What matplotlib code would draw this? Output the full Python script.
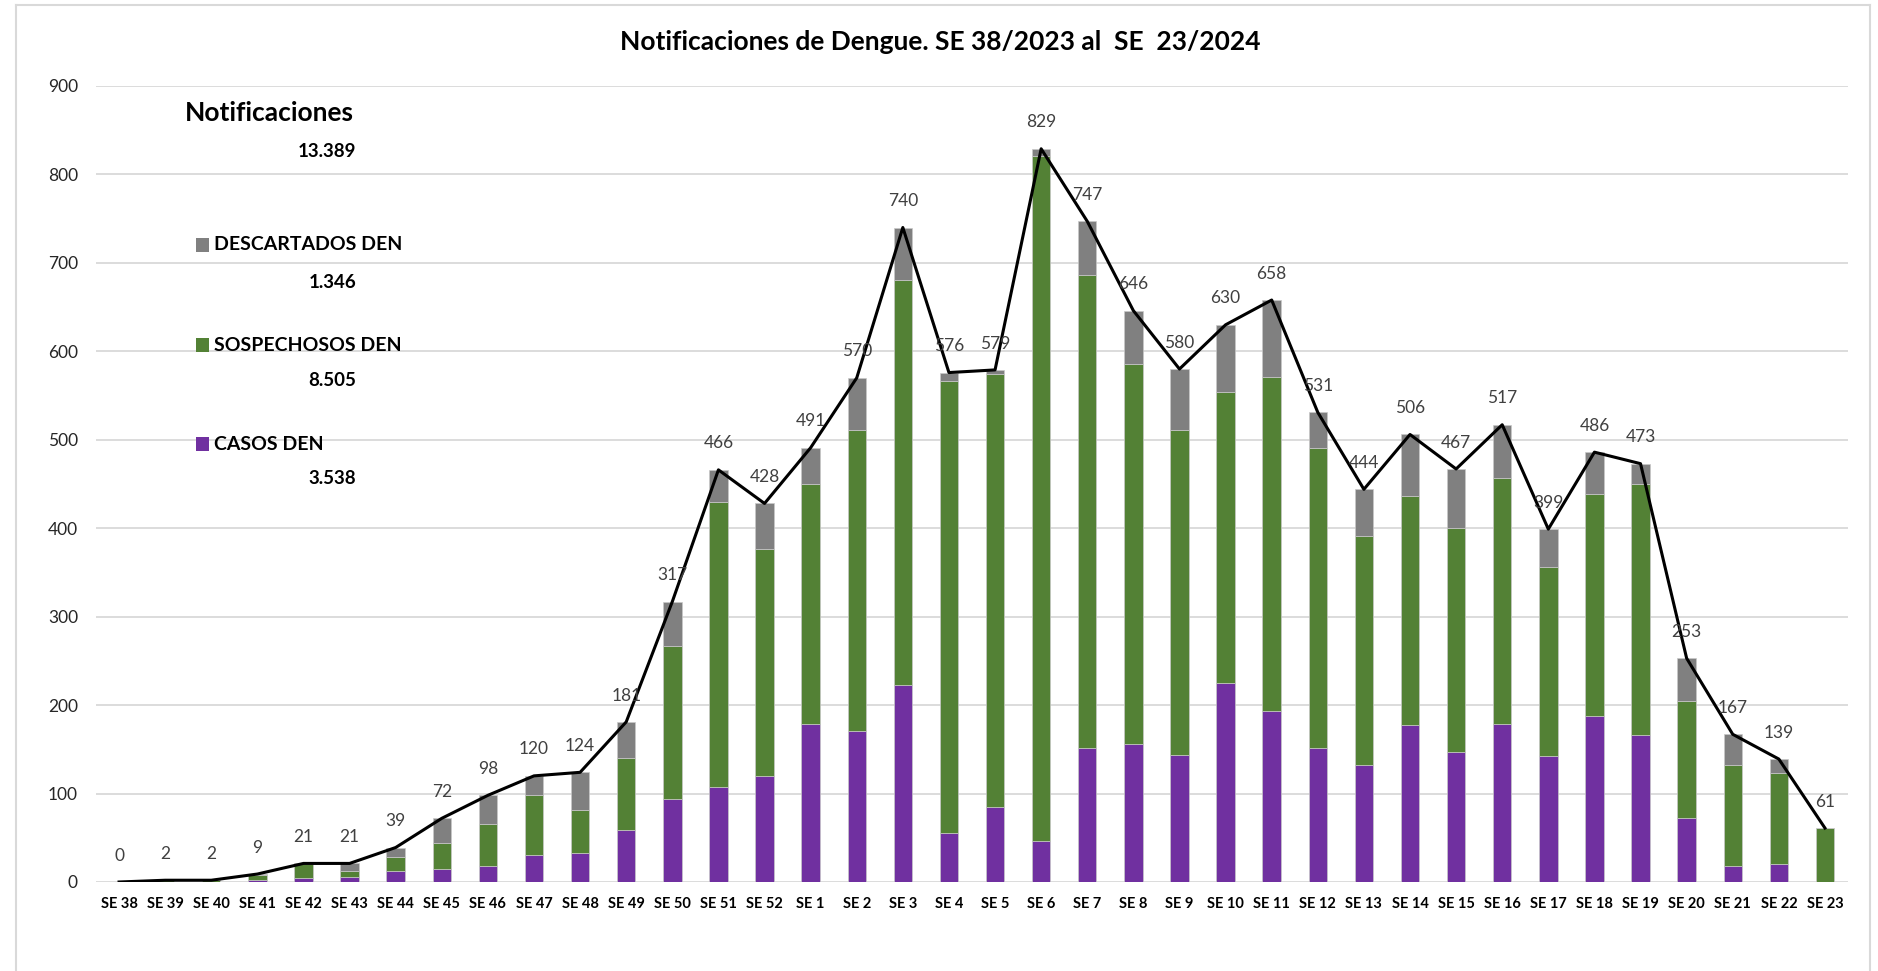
import matplotlib
matplotlib.use("Agg")
import matplotlib.pyplot as plt
from matplotlib.patches import Rectangle
from matplotlib.lines import Line2D

plt.rcParams['font.family'] = ['Lato', 'DejaVu Sans']

# --- Data ---
semanas = ["SE 38", "SE 39", "SE 40", "SE 41", "SE 42", "SE 43", "SE 44", "SE 45",
           "SE 46", "SE 47", "SE 48", "SE 49", "SE 50", "SE 51", "SE 52", "SE 1",
           "SE 2", "SE 3", "SE 4", "SE 5", "SE 6", "SE 7", "SE 8", "SE 9", "SE 10",
           "SE 11", "SE 12", "SE 13", "SE 14", "SE 15", "SE 16", "SE 17", "SE 18",
           "SE 19", "SE 20", "SE 21", "SE 22", "SE 23"]
casos = [0, 0, 0, 2, 4, 6, 12, 15, 18, 30, 33, 59, 94, 107, 120, 179, 171, 223, 55,
         85, 46, 151, 156, 144, 225, 193, 151, 132, 177, 147, 179, 142, 188, 166,
         72, 18, 20, 0]
sospechosos = [0, 2, 2, 6, 16, 7, 16, 29, 48, 68, 48, 81, 173, 323, 256, 271, 340,
               458, 511, 489, 775, 535, 430, 367, 329, 378, 340, 259, 259, 253, 278,
               214, 251, 284, 133, 114, 103, 61]
descartados = [0, 0, 0, 1, 1, 8, 11, 28, 32, 22, 43, 41, 50, 36, 52, 41, 59, 59, 10,
               5, 8, 61, 60, 69, 76, 87, 40, 53, 70, 67, 60, 43, 47, 23, 48, 35, 16, 0]
notificaciones = [0, 2, 2, 9, 21, 21, 39, 72, 98, 120, 124, 181, 317, 466, 428, 491,
                  570, 740, 576, 579, 829, 747, 646, 580, 630, 658, 531, 444, 506, 467,
                  517, 399, 486, 473, 253, 167, 139, 61]

total_label = "13.389"
series_labels = ["DESCARTADOS DEN", "SOSPECHOSOS DEN", "CASOS DEN"]
series_totals = ["1.346", "8.505", "3.538"]

C_CASOS = "#7030A0"
C_SOSP = "#538135"
C_DESC = "#808080"

W, H = 1878, 971
fig = plt.figure(figsize=(W / 100, H / 100), dpi=100)

# axes placed in pixel terms
left, right, top, bottom = 96, 1848, 86, 882
ax = fig.add_axes([left / W, 1 - bottom / H, (right - left) / W, (bottom - top) / H])

x = list(range(len(semanas)))
base2 = [c + s for c, s in zip(casos, sospechosos)]
bw = 0.4
ec = "#c8c8c8"
ax.bar(x, casos, width=bw, color=C_CASOS, edgecolor=ec, linewidth=0.5, zorder=2)
ax.bar(x, sospechosos, bottom=casos, width=bw, color=C_SOSP, edgecolor=ec, linewidth=0.5, zorder=2)
ax.bar(x, descartados, bottom=base2, width=bw, color=C_DESC, edgecolor=ec, linewidth=0.5, zorder=2)

ax.plot(x, notificaciones, color="black", linewidth=2.2, zorder=3)
for xi, v in zip(x, notificaciones):
    ax.annotate(str(v), (xi, v), xytext=(0, 19), textcoords="offset points",
                ha="center", va="center", fontsize=12.5, color="#404040", zorder=4)

ax.set_xlim(-0.5, len(semanas) - 0.5)
ax.set_ylim(0, 900)
ax.set_yticks(range(0, 1000, 100))
ax.set_xticks(x)
ax.set_xticklabels(semanas, fontsize=10.5, fontweight="bold", color="black")
ax.tick_params(axis="y", length=0, pad=13, labelsize=12.5, labelcolor="#262626")
ax.tick_params(axis="x", length=0, pad=11)
ax.yaxis.grid(True, color="#d9d9d9", linewidth=1.3, zorder=0)
ax.set_axisbelow(True)
for sp in ax.spines.values():
    sp.set_visible(False)

# title
fig.text(940 / W, 1 - 42 / H, "Notificaciones de Dengue. SE 38/2023 al  SE  23/2024",
         ha="center", va="center", fontsize=19, fontweight="bold")

# manual legend block
fig.text(185 / W, 1 - 113 / H, "Notificaciones", ha="left", va="center",
         fontsize=19, fontweight="bold")
fig.text(356 / W, 1 - 151 / H, total_label, ha="right", va="center",
         fontsize=13.5, fontweight="bold")
colors = [C_DESC, C_SOSP, C_CASOS]
label_y = [245, 345, 444]
value_y = [282, 380, 478]
for lab, val, col, ly, vy in zip(series_labels, series_totals, colors, label_y, value_y):
    fig.patches.append(Rectangle((196 / W, 1 - (ly + 7) / H), 13 / W, 14 / H,
                                 transform=fig.transFigure, facecolor=col,
                                 edgecolor="none"))
    fig.text(214 / W, 1 - ly / H, lab, ha="left", va="center",
             fontsize=14, fontweight="bold")
    fig.text(356 / W, 1 - vy / H, val, ha="right", va="center",
             fontsize=13.5, fontweight="bold")

# chart frame
frame_col = "#d9d9d9"
fig.lines.append(Line2D([16 / W, 16 / W], [0, 1 - 5 / H], transform=fig.transFigure,
                        color=frame_col, linewidth=1.5))
fig.lines.append(Line2D([16 / W, 1870 / W], [1 - 5 / H, 1 - 5 / H], transform=fig.transFigure,
                        color=frame_col, linewidth=1.5))
fig.lines.append(Line2D([1870 / W, 1870 / W], [0, 1 - 5 / H], transform=fig.transFigure,
                        color=frame_col, linewidth=1.5))

fig.savefig("out.png", dpi=100)
